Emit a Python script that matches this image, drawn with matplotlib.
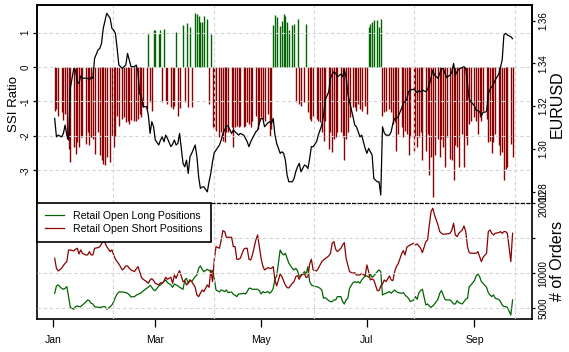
import numpy as np
import pandas as pd
import matplotlib
matplotlib.use("Agg")
import matplotlib.pyplot as plt

plt.rcParams['font.family'] = ['Liberation Sans', 'DejaVu Sans']
plt.rcParams['axes.unicode_minus'] = False

# one value per day, Sunday-Friday, Jan 2 - Sep 23 2013
days = pd.date_range('2013-01-02', '2013-09-23')
days = days[days.dayofweek != 5]

# SSI ratio, month by month
ssi_jan = [-1.27, -1.22, -1.41, -1.31, -1.55, -1.36, -2.10, -2.38, -2.76, -2.33, -2.52, -2.18, -2.33,
           -2.04, -2.04, -2.23, -1.90, -2.28, -2.04, -2.09, -2.52, -1.90, -2.57, -2.71, -2.81, -2.86]
ssi_feb = [-2.62, -2.76, -1.99, -2.31, -1.99, -1.41, -1.70, -1.51, -1.46, -1.60, -1.56, -1.65,
           -1.54, -1.56, -1.56, -1.51, -1.36, -1.46, -1.17, -1.22, 0.97, -1.02, -1.27, 1.07]
ssi_mar = [1.07, 0.97, 1.07, -1.02, 1.11, -0.98, -1.07, -1.15, -1.22, -1.12, 1.03, -1.41, -1.20,
           1.23, -1.02, 1.28, -1.15, 1.15, -1.17, 1.57, 1.54, 1.48, 1.32, 1.32, 1.49, 1.39]
ssi_apr = [-1.07, 0.97, -1.73, -1.80, -1.85, -2.04, -1.90, -2.14, -2.18, -1.90, -1.90, -1.75, -2.33,
           -1.75, -1.70, -1.75, -1.70, -1.73, -1.70, -1.60, -1.65, -1.75, -1.56, -1.41, -1.80, -1.56]
ssi_may = [-1.46, -1.51, -1.56, -1.36, -1.99, -1.80, 1.23, 1.52, 1.46, 1.20, 1.34, 1.54, 1.49, 1.32,
           1.07, 1.23, 1.25, -1.02, 1.39, -1.07, -1.12, -1.02, 1.25, -1.31, -1.51, -1.56, -1.41]
ssi_jun = [-1.51, -1.56, -1.60, -1.90, -2.14, -1.56, -2.38, -1.90, -2.47, -2.09, -2.04, -1.90, -1.90,
           -2.04, -2.71, -2.09, -1.90, -1.46, -1.17, -1.17, -1.27, -1.07, -1.22, -1.27, -1.12]
ssi_jul = [-1.36, 1.15, 1.25, 1.32, 1.36, 1.36, 1.15, 1.39, -1.41, -1.31, -1.27, -1.22, -1.31, -1.65,
           -1.60, -2.43, -1.94, -1.75, -2.04, -1.85, -1.94, -2.57, -2.04, -2.43, -1.99, -2.33, -2.04]
ssi_aug = [-1.90, -2.71, -2.43, -1.94, -3.15, -2.62, -3.78, -2.57, -2.09, -2.62, -2.09, -2.33, -2.91,
           -2.04, -2.67, -2.71, -3.29, -2.28, -2.33, -2.91, -1.94, -2.91, -2.04, -2.28, -1.65, -1.56]
ssi_sep = [-1.46, -1.56, -1.94, -1.46, -1.56, -1.27, -1.51, -2.18, -2.14, -2.49, -2.18, -1.94, -2.28,
           -2.57, -2.47, -3.29, -2.96, -2.91, -2.23, -2.62]

# EURUSD
fx_jan = [1.3142, 1.3056, 1.3064, 1.3056, 1.3072, 1.3111, 1.3064, 1.3041, 1.3283, 1.3376, 1.3368, 1.3314, 1.3306,
          1.3341, 1.3330, 1.3330, 1.3330, 1.3322, 1.3334, 1.3330, 1.3423, 1.3462, 1.3470, 1.3493, 1.3563, 1.3598]
fx_feb = [1.3634, 1.3610, 1.3563, 1.3555, 1.3540, 1.3470, 1.3392, 1.3376, 1.3384, 1.3392, 1.3446, 1.3415,
          1.3384, 1.3384, 1.3392, 1.3360, 1.3259, 1.3244, 1.3197, 1.3197, 1.3158, 1.3072, 1.3127, 1.3103]
fx_mar = [1.3041, 1.3018, 1.3041, 1.3056, 1.3033, 1.3064, 1.3049, 1.3010, 1.3022, 1.3041, 1.3018, 1.3025, 1.3072,
          1.2932, 1.2916, 1.2947, 1.2885, 1.2963, 1.2979, 1.3018, 1.2963, 1.2869, 1.2815, 1.2822, 1.2822, 1.2799]
fx_apr = [1.2846, 1.2885, 1.2939, 1.2982, 1.2994, 1.3018, 1.3041, 1.3072, 1.3088, 1.3107, 1.3107, 1.3072, 1.3088,
          1.3080, 1.3072, 1.3064, 1.3072, 1.3064, 1.3049, 1.3033, 1.3010, 1.3033, 1.3049, 1.3080, 1.3088, 1.3119]
fx_may = [1.3142, 1.3142, 1.3103, 1.3122, 1.3127, 1.3119, 1.3142, 1.3064, 1.3025, 1.2979, 1.2986, 1.2979, 1.2947,
          1.2877, 1.2846, 1.2846, 1.2861, 1.2893, 1.2916, 1.2932, 1.2893, 1.2924, 1.2920, 1.2908, 1.2955, 1.3010, 1.3010]
fx_jun = [1.3033, 1.3064, 1.3088, 1.3111, 1.3158, 1.3228, 1.3267, 1.3330, 1.3349, 1.3360, 1.3353, 1.3337, 1.3349,
          1.3337, 1.3368, 1.3337, 1.3259, 1.3220, 1.3150, 1.3111, 1.3103, 1.3080, 1.3056, 1.3064, 1.3002]
fx_jul = [1.2979, 1.3002, 1.2986, 1.2971, 1.2861, 1.2846, 1.2846, 1.2784, 1.3103, 1.3075, 1.3064, 1.3064, 1.3080,
          1.3119, 1.3142, 1.3142, 1.3150, 1.3189, 1.3213, 1.3220, 1.3232, 1.3267, 1.3275, 1.3279, 1.3271, 1.3263, 1.3271]
fx_aug = [1.3267, 1.3275, 1.3267, 1.3279, 1.3298, 1.3334, 1.3368, 1.3345, 1.3330, 1.3353, 1.3373, 1.3376, 1.3353,
          1.3334, 1.3345, 1.3360, 1.3399, 1.3345, 1.3360, 1.3373, 1.3380, 1.3384, 1.3376, 1.3306, 1.3232, 1.3220]
fx_sep = [1.3201, 1.3179, 1.3179, 1.3174, 1.3154, 1.3170, 1.3174, 1.3255, 1.3279, 1.3290, 1.3302, 1.3322, 1.3349,
          1.3380, 1.3415, 1.3532, 1.3540, 1.3532, 1.3524, 1.3515]

# retail open long positions (# of orders)
long_jan = [7143, 8190, 8333, 7857, 7714, 7857, 8095, 6667, 5143, 4857, 5238, 5333, 5238, 5238, 5476, 5905,
            6190, 6095, 5714, 5619, 5238, 5143, 5143, 5143, 5238, 5238]
long_feb = [4857, 5238, 5476, 5952, 6571, 7048, 7333, 7333, 7286, 7238, 7143, 6905, 6619, 6667, 6857, 7000,
            7095, 7238, 7476, 7857, 8000, 8286, 8000, 7619]
long_mar = [7524, 8190, 8333, 8571, 8810, 9048, 8667, 8333, 8000, 8476, 8333, 8190, 8000, 7714, 9048, 9286,
            8571, 9048, 8810, 9524, 9762, 10714, 11048, 10571, 10238, 10571]
long_apr = [10381, 10238, 10381, 9286, 7619, 7333, 7619, 7524, 7381, 7619, 7238, 7333, 7000, 6857, 6667, 7048,
            7048, 7143, 7048, 7381, 7857, 7857, 7714, 7714, 7714, 7524]
long_may = [7048, 7381, 7238, 7381, 7143, 7381, 7857, 9143, 9619, 13333, 12857, 12619, 12857, 12143, 11429,
            10714, 10476, 10714, 10381, 9524, 9619, 10238, 9905, 10952, 8810, 8333, 8190]
long_jun = [8095, 8000, 7857, 7619, 6429, 6524, 6095, 5952, 5952, 6190, 6190, 6667, 6667, 5952, 5619, 6190,
            6429, 7857, 8667, 8810, 8667, 8810, 8571, 9048, 9619]
long_jul = [9619, 9429, 9905, 9429, 9619, 10238, 10476, 10238, 6905, 7048, 7143, 7381, 7143, 7381, 7619, 7381,
            7238, 7143, 7238, 6905, 6667, 6429, 5952, 6190, 6667, 6286, 7238]
long_aug = [7524, 7714, 5476, 5619, 5333, 5143, 5333, 5619, 6286, 7143, 7524, 6905, 6286, 6190, 6190, 5952,
            5619, 5619, 6095, 5810, 5619, 5952, 6286, 6429, 8095, 8333]
long_sep = [8952, 9619, 9905, 9524, 8810, 8571, 8000, 7238, 6905, 6667, 6905, 6429, 6286, 5952, 5476, 5238,
            5238, 5143, 4048, 6190]

# retail open short positions (# of orders)
short_jan = [12143, 10714, 10333, 10714, 11095, 11429, 11667, 13333, 13333, 13190, 13429, 13571, 12762, 13333,
             12857, 12619, 12619, 13095, 12619, 12619, 13571, 13667, 13810, 14190, 14667, 14381]
short_feb = [13810, 13095, 13333, 12619, 12000, 11667, 11333, 10476, 10714, 11048, 11048, 10714, 10476, 10238,
             10619, 10952, 10238, 9429, 9143, 8810, 8571, 9048, 9238, 8952]
short_mar = [8571, 8333, 8667, 8571, 8905, 9429, 9143, 9429, 8571, 9762, 9286, 9905, 10381, 8810, 8905, 8333,
             8571, 9048, 8810, 8000, 6905, 6667, 7143, 7619, 7381, 8333]
short_apr = [8000, 10476, 8810, 11905, 13810, 13571, 14762, 16095, 15952, 15143, 15143, 15143, 13810, 13810,
             12000, 12000, 12143, 13429, 13571, 13571, 12000, 11905, 12619, 14762, 15476, 13810]
short_may = [12143, 11048, 10476, 10810, 10714, 10714, 10952, 9048, 8190, 9905, 9524, 8905, 8333, 7952, 7905,
             8571, 8810, 9524, 9667, 9143, 9762, 9905, 9381, 9524, 11333, 12000, 10476]
short_jun = [10333, 10714, 11190, 11667, 11905, 12095, 12476, 12857, 14286, 14524, 13429, 13095, 13571, 14048,
             14381, 12143, 11190, 10238, 10000, 10095, 9762, 9762, 9762, 10000, 9619]
short_jul = [11190, 10238, 9048, 9190, 9048, 7524, 7524, 8190, 8476, 9048, 8810, 9619, 9048, 8952, 10238, 10952,
             11333, 12762, 13238, 12619, 13714, 13905, 14048, 14286, 14048, 14190, 13905]
short_aug = [13571, 12952, 14524, 14762, 16905, 18810, 19286, 18333, 16905, 15952, 15714, 15571, 15619, 15619,
             15714, 16190, 17143, 15476, 15238, 15714, 16190, 16762, 15952, 13810, 12952, 12857]
short_sep = [12857, 12857, 13095, 12381, 11667, 12286, 12857, 15952, 16190, 15714, 15476, 15714, 15810, 15952,
             15714, 15952, 15952, 15714, 11667, 15714]

ssi = np.concatenate([ssi_jan, ssi_feb, ssi_mar, ssi_apr, ssi_may, ssi_jun, ssi_jul, ssi_aug, ssi_sep])
eurusd = np.concatenate([fx_jan, fx_feb, fx_mar, fx_apr, fx_may, fx_jun, fx_jul, fx_aug, fx_sep])
longs = np.concatenate([long_jan, long_feb, long_mar, long_apr, long_may, long_jun, long_jul, long_aug, long_sep])
shorts = np.concatenate([short_jan, short_feb, short_mar, short_apr, short_may, short_jun, short_jul, short_aug, short_sep])

month_ticks = pd.to_datetime(['2013-01-01', '2013-03-01', '2013-05-01', '2013-07-01', '2013-09-01'])
month_labels = ['Jan', 'Mar', 'May', 'Jul', 'Sep']

GREEN = '#006400'
RED = '#8B0000'
GRID = '#d3d3d3'
gridstyle = dict(color=GRID, lw=0.8, ls=(0, (3, 2.5)), zorder=3)

W, H = 569, 352
fig = plt.figure(figsize=(W / 100, H / 100), dpi=100)
ax1 = fig.add_axes([37 / W, 1 - 203 / H, 495 / W, 198 / H])
ax2 = fig.add_axes([37 / W, 1 - 319 / H, 495 / W, 116 / H], sharex=ax1)

t0 = pd.Timestamp('2013-01-01')
ax1.set_xlim(t0 - pd.Timedelta(days=9.2), t0 + pd.Timedelta(days=276.2))

# R style grid (pretty() on POSIXct seconds)
vgrid = pd.to_datetime(np.arange(1.36e9, 1.385e9, 5e6), unit='s')

# ---- top panel: SSI bars + EURUSD
ax1.vlines(days, 0, ssi, colors=np.where(ssi > 0, GREEN, RED), lw=1.0, zorder=2)
ax1.set_ylim(-3.95, 1.80)
ax1.set_yticks([-3, -2, -1, 0, 1])
for v in [-3, -2, -1, 0, 1]:
    ax1.axhline(v, **gridstyle)
for v in vgrid:
    ax1.axvline(v, **gridstyle)
ax1.tick_params(axis='x', bottom=False, labelbottom=False)
ax1.tick_params(axis='y', length=3, width=0.9, pad=1.5, labelsize=7, labelrotation=90)
plt.setp(ax1.get_yticklabels(), va='center')
ax1.set_ylabel('SSI Ratio', fontsize=9.5)
ax1.yaxis.set_label_coords(-0.035, 0.5)

ax1r = ax1.twinx()
ax1r.plot(days, eurusd, color='black', lw=0.9)
ax1r.set_ylim(1.27467, 1.36725)
ax1r.set_yticks([1.28, 1.30, 1.32, 1.34, 1.36])
ax1r.set_yticklabels(['1.28', '1.30', '1.32', '1.34', '1.36'])
ax1r.tick_params(axis='y', length=2.4, width=0.9, pad=2.5, labelsize=7, labelrotation=90)
plt.setp(ax1r.get_yticklabels(), va='center')
ax1r.set_ylabel('EURUSD', fontsize=11.5)
ax1r.yaxis.set_label_coords(1.036, 0.5)

for a in (ax1, ax1r):
    a.spines['bottom'].set_visible(False)
    for s in ('top', 'left', 'right'):
        a.spines[s].set_linewidth(1.2)

# ---- bottom panel: number of orders
ax2.plot(days, longs, color=GREEN, lw=0.9, label='Retail Open Long Positions')
ax2.plot(days, shorts, color=RED, lw=0.9, label='Retail Open Short Positions')
ax2.set_ylim(3470, 20040)
for v in [5000, 10000, 15000]:
    ax2.axhline(v, **gridstyle)
for v in vgrid:
    ax2.axvline(v, **gridstyle)
ax2.yaxis.tick_right()
ax2.yaxis.set_label_position('right')
ax2.set_yticks([5000, 10000, 15000, 20000])
ax2.set_yticklabels(['5000', '10000', '', '20000'])
ax2.tick_params(axis='y', length=2.4, width=0.9, pad=2.5, labelsize=7, labelrotation=90)
plt.setp(ax2.get_yticklabels(), va='center')
ax2.set_ylabel('# of Orders', fontsize=11.5)
ax2.yaxis.set_label_coords(1.036, 0.5)
ax2.set_xticks(month_ticks)
ax2.set_xticklabels(month_labels)
ax2.tick_params(axis='x', length=5.5, width=0.9, pad=6, labelsize=7.5)
for s in ('bottom', 'left', 'right'):
    ax2.spines[s].set_linewidth(1.2)
ax2.spines['top'].set_linewidth(0.9)
ax2.spines['top'].set_linestyle((0, (2.5, 2)))

leg = ax2.legend(loc='upper left', bbox_to_anchor=(0, 1), borderaxespad=0, fontsize=7.6,
                 fancybox=False, framealpha=1, edgecolor='black', handlelength=1.8,
                 handletextpad=0.9, borderpad=0.75, labelspacing=0.3)
leg.get_frame().set_linewidth(1.2)

fig.savefig('out.png', dpi=100)
